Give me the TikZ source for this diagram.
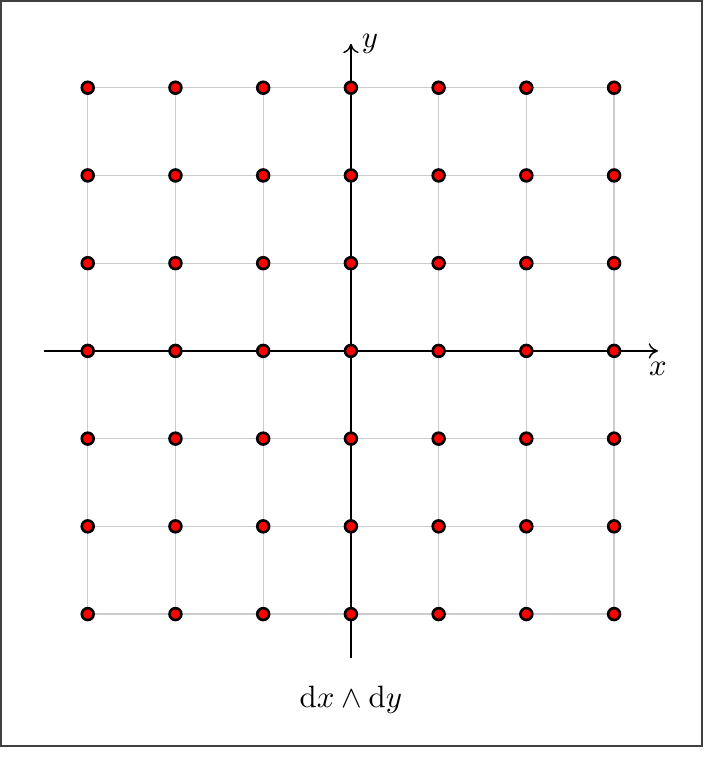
\documentclass[tikz,border=0pt]{standalone}
\usetikzlibrary{arrows.meta}
\begin{document}
\begin{tikzpicture}[
  gridline/.style={gray!40, line width=0.4pt},
  axisline/.style={black, line width=0.45pt, -{To[length=3pt,width=5pt]}},
  lattice/.style={circle, fill=red, draw=black, line width=0.85pt, inner sep=0pt, minimum size=0.135cm},
  framebox/.style={draw=black!75, line width=0.7pt}
]
\useasboundingbox (-4,-4.652) rectangle (4.233,4.0);
\draw[framebox] (-3.99,-4.5) rectangle (4.0,3.99);
\foreach \i in {-3,...,3} {
  \draw[gridline] (\i,-3) -- (\i,3);
  \draw[gridline] (-3,\i) -- (3,\i);
}
\coordinate (xs) at (-3.5,0);
\coordinate (xe) at (3.5,0);
\coordinate (ys) at (0,-3.5);
\coordinate (ye) at (0,3.5);
\draw[axisline] (xs) -- (xe) node[below] (xl) {$x$};
\draw[axisline] (ys) -- (ye) node[right] (yl) {$y$};
\foreach \i in {-3,...,3} {
  \foreach \j in {-3,...,3} {
    \node[lattice] (p\i\j) at (\i,\j) {};
  }
}
\node (lab) at (0,-3.98) {$\mathrm{d}x\wedge\mathrm{d}y$};
\end{tikzpicture}
\end{document}
